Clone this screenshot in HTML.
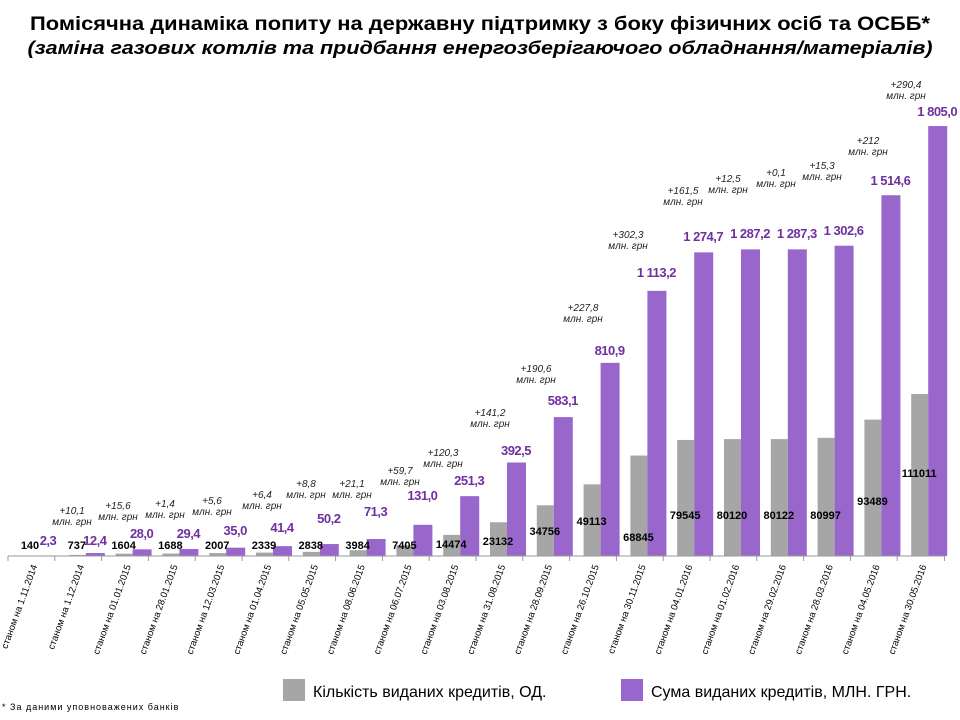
<!DOCTYPE html>
<html><head><meta charset="utf-8"><style>
body{margin:0;background:#fff;width:960px;height:720px;overflow:hidden}
svg{display:block;font-family:"Liberation Sans","DejaVu Sans",sans-serif}
</style></head><body>
<svg width="960" height="720" viewBox="0 0 960 720" xmlns="http://www.w3.org/2000/svg">
<text x="480" y="30" text-anchor="middle" font-size="19" font-weight="bold" textLength="900" lengthAdjust="spacingAndGlyphs">Помісячна динаміка попиту на державну підтримку з боку фізичних осіб та ОСББ*</text>
<text x="480" y="54" text-anchor="middle" font-size="18" font-weight="bold" font-style="italic" textLength="905" lengthAdjust="spacingAndGlyphs">(заміна газових котлів  та  придбання енергозберігаючого обладнання/матеріалів)</text>
<g id="chart"></g>
<line x1="8" y1="556" x2="945" y2="556" stroke="#999" stroke-width="1"/>
<rect x="283" y="679" width="22" height="22" fill="#a6a6a6"/>
<text x="313" y="697" font-size="16">Кількість виданих кредитів, ОД.</text>
<rect x="621" y="679" width="22" height="22" fill="#9966cc"/>
<text x="651" y="697" font-size="16">Сума виданих кредитів, МЛН. ГРН.</text>
<text x="2" y="710" font-size="9" letter-spacing="1">* За даними уповноважених банків</text>
</svg>
<script>
const cnt=[140,737,1604,1688,2007,2339,2838,3984,7405,14474,23132,34756,49113,68845,79545,80120,80122,80997,93489,111011];
const sum=[2.3,12.4,28.0,29.4,35.0,41.4,50.2,71.3,131.0,251.3,392.5,583.1,810.9,1113.2,1274.7,1287.2,1287.3,1302.6,1514.6,1805.0];
const sl=["2,3","12,4","28,0","29,4","35,0","41,4","50,2","71,3","131,0","251,3","392,5","583,1","810,9","1 113,2","1 274,7","1 287,2","1 287,3","1 302,6","1 514,6","1 805,0"];
const cy=[549,549,549,549,549,549,549,549,549,548,545,535,525,541,519,519,519,519,505,477];
const sy=[545,545,538,538,535,532,523,516,500,485,455,405,355,277,241,238,238,235,185,116];
const ann=[null,["+10,1",72,510],["+15,6",118,505],["+1,4",165,503],["+5,6",212,500],["+6,4",262,494],["+8,8",306,483],["+21,1",352,483],["+59,7",400,470],["+120,3",443,452],["+141,2",490,412],["+190,6",536,368],["+227,8",583,307],["+302,3",628,234],["+161,5",683,190],["+12,5",728,178],["+0,1",776,172],["+15,3",822,165],["+212",868,140],["+290,4",906,84]];
const dates=["1.11.2014","1.12.2014","01.01.2015","28.01.2015","12.03.2015","01.04.2015","05.05.2015","08.06.2015","06.07.2015","03.08.2015","31.08.2015","28.09.2015","26.10.2015","30.11.2015","04.01.2016","01.02.2016","29.02.2016","28.03.2016","04.05.2016","30.05.2016"];
let h="";const W=46.8,B=556;
for(let i=0;i<20;i++){const s=8+W*i;
h+=`<line x1="${s}" y1="556" x2="${s}" y2="561" stroke="#999"/>`;
const gh=cnt[i]*0.001459;h+=`<rect x="${s+14}" y="${B-gh}" width="17" height="${gh}" fill="#a6a6a6"/>`;
const ph=sum[i]*0.2382;h+=`<rect x="${s+31}" y="${B-ph}" width="19" height="${ph}" fill="#9966cc"/>`;
h+=`<text x="${s+22}" y="${cy[i]}" text-anchor="middle" font-size="11" font-weight="bold" fill="#000">${cnt[i]}</text>`;
h+=`<text x="${s+40}" y="${sy[i]}" text-anchor="middle" font-size="13" font-weight="bold" fill="#7030a0" letter-spacing="-0.5">${sl[i]}</text>`;
if(ann[i]){h+=`<text x="${ann[i][1]}" y="${ann[i][2]+4}" text-anchor="middle" font-size="10" font-style="italic" fill="#222">${ann[i][0]}</text><text x="${ann[i][1]}" y="${ann[i][2]+15}" text-anchor="middle" font-size="10" font-style="italic" fill="#222">млн. грн</text>`;}
const ax=s+W/2+6;h+=`<text transform="translate(${ax},566) rotate(-70)" text-anchor="end" font-size="9.5" fill="#000">станом на ${dates[i]}</text>`;
}
h+=`<line x1="944.6" y1="556" x2="944.6" y2="561" stroke="#999"/>`;
document.getElementById("chart").innerHTML=h;
</script>
</body></html>
